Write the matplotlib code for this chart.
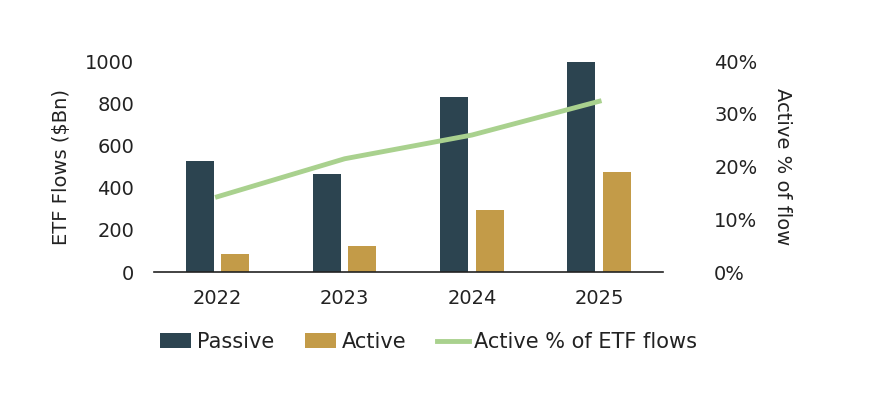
import numpy as np
import matplotlib
matplotlib.use('Agg')
import matplotlib.pyplot as plt
from matplotlib.ticker import FuncFormatter

plt.rcParams['font.family'] = ['DejaVu Sans']

# 数据
years = ['2022', '2023', '2024', '2025']
passive = [526, 464, 830, 998]
active = [85, 123, 294, 475]
active_pct = [14.3, 21.5, 26.0, 32.4]

c_passive = '#2c4450'
c_active = '#c39b48'
c_line = '#a9d18e'

fig = plt.figure(figsize=(8.79, 4.08), dpi=100)
ax1 = fig.add_axes([0.175, 0.333, 0.579, 0.517])

x = np.arange(len(years))
w = 0.22
off = 0.14
b1 = ax1.bar(x - off, passive, width=w, color=c_passive, label='Passive')
b2 = ax1.bar(x + off, active, width=w, color=c_active, label='Active')

ax1.set_xlim(-0.5, 3.5)
ax1.set_ylim(0, 1000)
ax1.set_yticks([0, 200, 400, 600, 800, 1000])
ax1.set_xticks(x)
ax1.set_xticklabels(years)
ax1.set_ylabel('ETF Flows ($Bn)', fontsize=14, color='#222222')
ax1.yaxis.set_label_coords(-0.163, 0.5)
ax1.tick_params(axis='both', length=0, labelsize=14, labelcolor='#222222')
ax1.tick_params(axis='x', pad=12)
ax1.tick_params(axis='y', pad=14)
for s in ['top', 'right', 'left']:
    ax1.spines[s].set_visible(False)
ax1.spines['bottom'].set_color('#222222')
ax1.spines['bottom'].set_linewidth(1.2)

# 第二个y轴
ax2 = ax1.twinx()
ln, = ax2.plot(x, active_pct, color=c_line, linewidth=3.5, label='Active % of ETF flows')
ax2.set_ylim(0, 40)
ax2.set_yticks([0, 10, 20, 30, 40])
ax2.yaxis.set_major_formatter(FuncFormatter(lambda v, p: f'{v:.0f}%'))
ax2.set_ylabel('Active % of flow', fontsize=14, color='#222222', rotation=270, va='center')
ax2.yaxis.set_label_coords(1.236, 0.5)
ax2.tick_params(axis='y', length=0, labelsize=14, labelcolor='#222222', pad=37)
for s in ['top', 'right', 'left', 'bottom']:
    ax2.spines[s].set_visible(False)

fig.legend(handles=[b1, b2, ln], loc='center', bbox_to_anchor=(0.4875, 0.162),
           ncol=3, frameon=False, fontsize=15, handlelength=1.5, handletextpad=0.25,
           columnspacing=1.5, labelcolor='#222222')

fig.savefig('out.png', dpi=100)
